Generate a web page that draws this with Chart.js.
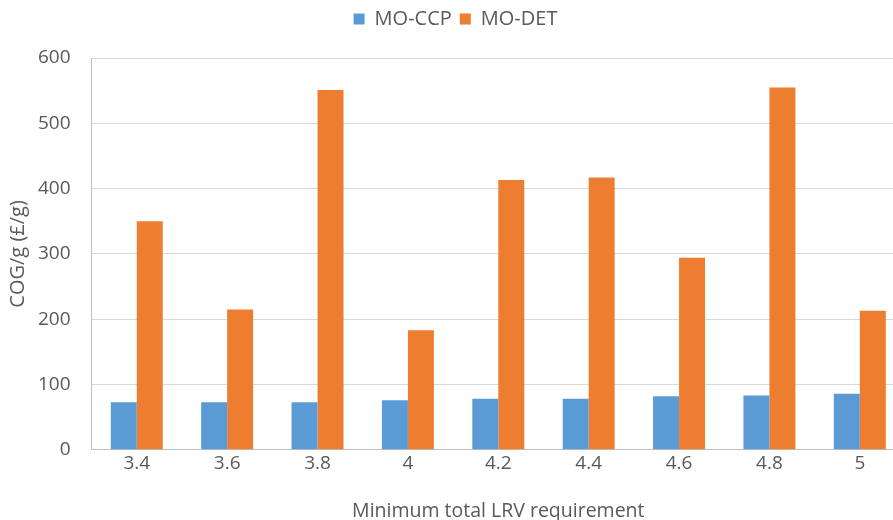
<!DOCTYPE html>
<html>
<head>
<meta charset="utf-8">
<script src="https://cdn.jsdelivr.net/npm/chart.js@4"></script>
<style>
  html, body { margin: 0; padding: 0; background: #fff; overflow: hidden; }
  .wrap { width: 906px; height: 520px; }
</style>
</head>
<body>
<div class="wrap"><canvas id="myChart"></canvas></div>
<script>
const categories = ["3.4", "3.6", "3.8", "4", "4.2", "4.4", "4.6", "4.8", "5"];
const ccpValues = [73, 73, 73, 76, 78, 78, 82, 83, 86];
const detValues = [350, 215, 551, 183, 413, 417, 294, 555, 213];
const yTicks = [0, 100, 200, 300, 400, 500, 600];

const textColor = "#595959";
const fontFamily = "'Open Sans', Lato, sans-serif";

// extra space under the legend
const legendMargin = {
  id: "legendMargin",
  beforeInit(chart) {
    const fit = chart.legend.fit;
    chart.legend.fit = function () {
      fit.bind(chart.legend)();
      this.height += 19;
    };
  },
};

let ctx = document.getElementById("myChart").getContext("2d");
let myChart = new Chart(ctx, {
  type: "bar",
  data: {
    labels: categories,
    datasets: [
      {
        label: "MO-CCP",
        data: ccpValues,
        backgroundColor: "#5B9BD5",
        categoryPercentage: 0.575,
        barPercentage: 1,
      },
      {
        label: "MO-DET",
        data: detValues,
        backgroundColor: "#ED7D31",
        categoryPercentage: 0.575,
        barPercentage: 1,
      },
    ],
  },
  plugins: [legendMargin],
  options: {
    responsive: true,
    maintainAspectRatio: false,
    animation: false,
    layout: { padding: { top: 1, right: 1, left: 6, bottom: -3 } },
    plugins: {
      tooltip: { enabled: false },
      legend: {
        position: "top",
        labels: {
          color: textColor,
          font: { family: fontFamily, size: 20 },
          boxWidth: 11,
          boxHeight: 11,
          padding: 8,
        },
      },
    },
    scales: {
      x: {
        grid: { display: false, drawTicks: false },
        border: { display: true, color: "#bfbfbf", width: 1 },
        ticks: { color: textColor, font: { family: fontFamily, size: 19 }, padding: 2 },
        title: {
          display: true,
          text: "Minimum total LRV requirement",
          color: textColor,
          font: { family: fontFamily, size: 19.5 },
          padding: { top: 23, bottom: 0 },
        },
      },
      y: {
        min: 0,
        max: 600,
        afterBuildTicks: (axis) => {
          axis.ticks = yTicks.map((v) => ({ value: v }));
        },
        afterFit: (axis) => {
          axis.width -= 13;
        },
        grid: { color: "#d9d9d9", lineWidth: 1, drawTicks: false },
        border: { display: true, color: "#bfbfbf", width: 1 },
        ticks: { color: textColor, font: { family: fontFamily, size: 19 }, padding: 21 },
        title: {
          display: true,
          text: "COG/g (£/g)",
          color: textColor,
          font: { family: fontFamily, size: 20 },
          padding: { top: 0, bottom: 0 },
        },
      },
    },
  },
});
</script>
</body>
</html>
